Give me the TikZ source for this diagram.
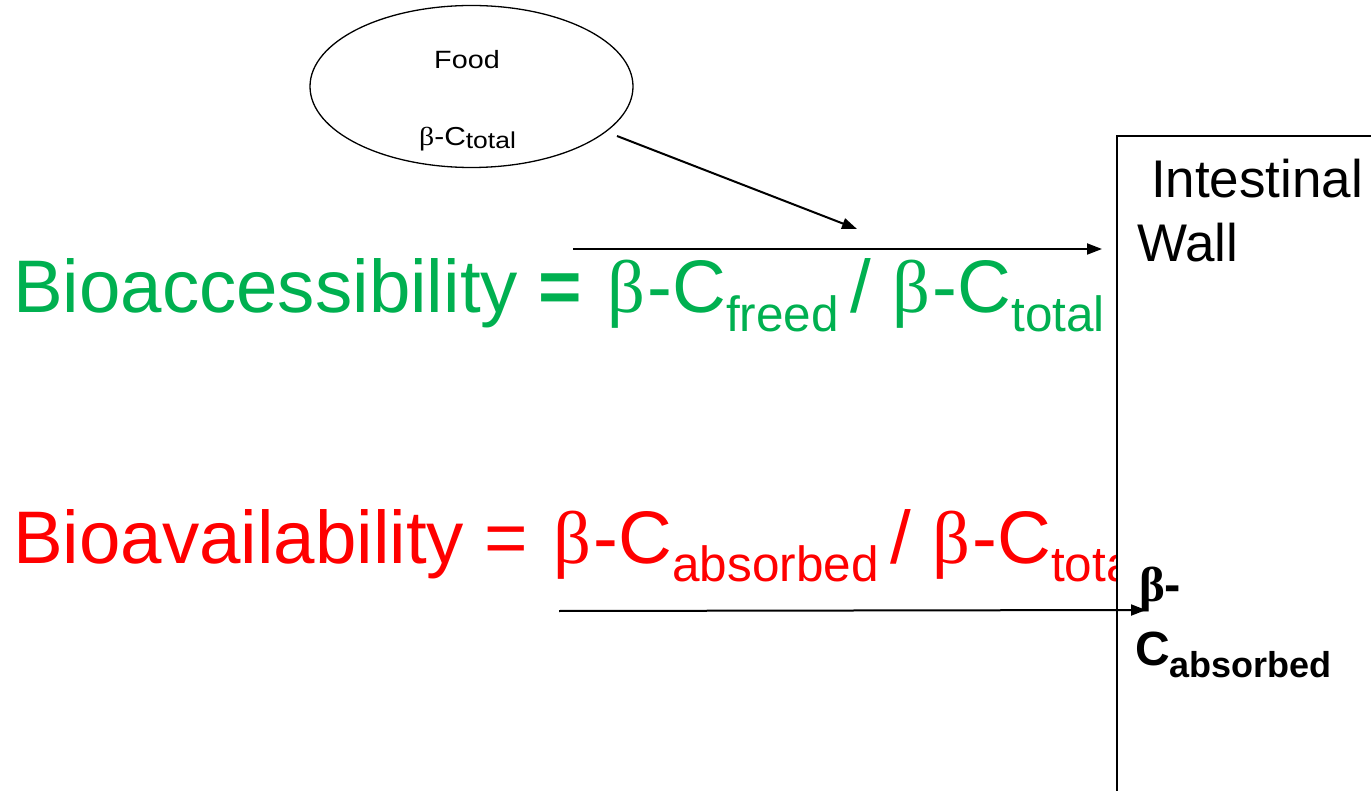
\documentclass[tikz,border=0pt]{standalone}
\usepackage{fontspec}
\setmainfont{Liberation Sans}
\newfontfamily\gr{Liberation Serif}
\newfontfamily\widesans[FakeStretch=1.15]{Liberation Sans}
\newfontfamily\widegr[FakeStretch=1.15]{Liberation Serif}
\usetikzlibrary{shapes.geometric,arrows.meta}
\definecolor{pgreen}{RGB}{0,176,80}
\definecolor{pred}{RGB}{255,0,0}
\tikzset{
  txt/.style={anchor=base west, inner sep=0pt, outer sep=0pt},
  big/.style={font=\fontsize{74.5}{74.5}\selectfont},
  conn/.style={line width=2pt, -{Triangle[length=15pt,width=11pt]}},
}
\newcommand{\bsub}[1]{\raisebox{-18.5pt}{\fontsize{49.5}{49.5}\selectfont #1}}
\newcommand{\bbeta}{{\gr β}\kern2.5pt}
\newcommand{\slsh}{\kern12pt/\ }
\begin{document}
\begin{tikzpicture}[x=1pt,y=-1pt]
\useasboundingbox (0,0) rectangle (1371,791);
% food ellipse
\node[draw, ellipse, line width=1.3pt, minimum width=323pt, minimum height=162pt, inner sep=0pt] (food) at (471.5,86.5) {};
\node[inner sep=0pt, anchor=base, font=\widesans\fontsize{25}{25}\selectfont] (foodlbl) at (467,69) {Food};
\node[inner sep=0pt, anchor=base, font=\widesans\fontsize{26}{26}\selectfont] (foodbc) at (467.5,146) {{\widegr β}-C\raisebox{-3pt}{\fontsize{23}{23}\selectfont total}};
% equations
\node[txt, big, text=pgreen] (acc) at (13,313) {Bioaccessibility \textbf{=} \kern4pt\bbeta-C\bsub{freed}\slsh\bbeta-C\bsub{total}};
\node[txt, big, text=pred] (avail) at (13,563) {Bioavailability = \kern4pt\bbeta-C\bsub{absorbed}\slsh\bbeta-C\bsub{total}};
% intestinal wall box
\path[fill=white, draw=black, line width=1.6pt] (1117,800) -- (1117,136) -- (1380,136) -- (1380,800) -- cycle;
\node[txt, font=\fontsize{53}{53}\selectfont] (wall1) at (1151,198) {Intestinal};
\node[txt, font=\fontsize{53}{53}\selectfont] (wall2) at (1137,262) {Wall};
% arrows
\coordinate (a1s) at (617,136);
\coordinate (a1e) at (857,229);
\coordinate (a2s) at (573,249);
\coordinate (a2e) at (1102,249);
\coordinate (a3s) at (559,611);
\coordinate (a3e) at (1146,610);
\draw[conn] (a1s) -- (a1e);
\draw[conn] (a2s) -- (a2e);
\draw[conn] (a3s) -- (a3e);
% absorbed label
\node[txt, font=\bfseries\fontsize{49}{49}\selectfont] (abs1) at (1139,601) {{\gr\bfseries β}-};
\node[txt, font=\bfseries\fontsize{48}{48}\selectfont] (abs2) at (1135,665) {C\raisebox{-12pt}{\fontsize{36}{36}\selectfont\bfseries absorbed}};
\end{tikzpicture}
\end{document}
